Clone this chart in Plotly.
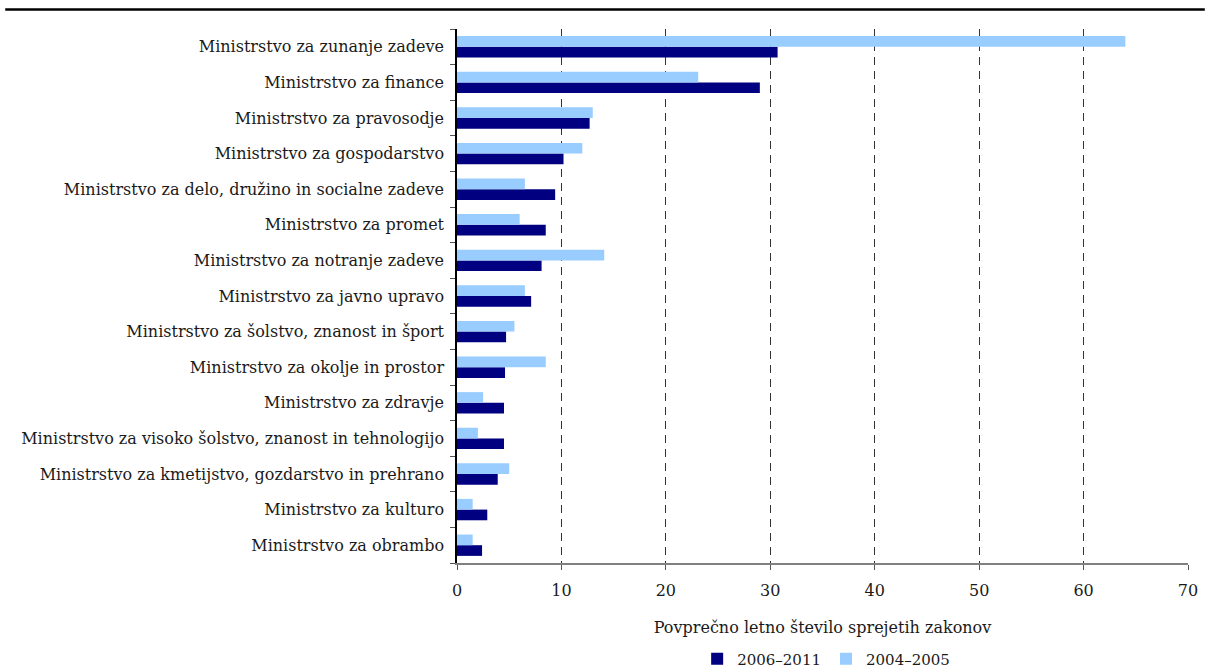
import plotly.graph_objects as go

categories = [
    "Ministrstvo za zunanje zadeve",
    "Ministrstvo za finance",
    "Ministrstvo za pravosodje",
    "Ministrstvo za gospodarstvo",
    "Ministrstvo za delo, družino in socialne zadeve",
    "Ministrstvo za promet",
    "Ministrstvo za notranje zadeve",
    "Ministrstvo za javno upravo",
    "Ministrstvo za šolstvo, znanost in šport",
    "Ministrstvo za okolje in prostor",
    "Ministrstvo za zdravje",
    "Ministrstvo za visoko šolstvo, znanost in tehnologijo",
    "Ministrstvo za kmetijstvo, gozdarstvo in prehrano",
    "Ministrstvo za kulturo",
    "Ministrstvo za obrambo",
]
values_2006_2011 = [30.7, 29.0, 12.7, 10.2, 9.4, 8.5, 8.1, 7.1, 4.7, 4.6, 4.5, 4.5, 3.9, 2.9, 2.4]
values_2004_2005 = [64.0, 23.1, 13.0, 12.0, 6.5, 6.0, 14.1, 6.5, 5.5, 8.5, 2.5, 2.0, 5.0, 1.5, 1.5]
x_ticks = [0, 10, 20, 30, 40, 50, 60, 70]

FONT = "DejaVu Serif"

fig = go.Figure()
fig.add_trace(go.Bar(
    y=categories, x=values_2006_2011, orientation="h", name="2006–2011",
    marker=dict(color="#000080", line=dict(width=0)),
))
fig.add_trace(go.Bar(
    y=categories, x=values_2004_2005, orientation="h", name="2004–2005",
    marker=dict(color="#99CCFF", line=dict(width=0)),
))

fig.update_layout(
    width=1210, height=668,
    margin=dict(l=457, r=22, t=29, b=105, autoexpand=False),
    paper_bgcolor="white", plot_bgcolor="white",
    barmode="group", bargap=0.4, bargroupgap=0,
    font=dict(family=FONT, size=16, color="#1a1a1a"),
    showlegend=True,
    legend=dict(orientation="h", x=0.505, xanchor="center", y=-0.18, yanchor="middle",
                font=dict(family=FONT, size=15), itemwidth=30, tracegroupgap=0),
    xaxis=dict(
        range=[0, 70], tickvals=x_ticks, showgrid=True, gridcolor="#333333", gridwidth=1,
        griddash="8px,6px", zeroline=False, showline=True, linecolor="#808080", linewidth=1.5,
        ticks="outside", ticklen=5, tickcolor="#555555", automargin=False,
        tickfont=dict(family=FONT, size=16), ticklabelstandoff=7,
        title=dict(text="Povprečno letno število sprejetih zakonov",
                   font=dict(family=FONT, size=16), standoff=23),
    ),
    yaxis=dict(
        categoryorder="array", categoryarray=categories[::-1],
        showgrid=False, zeroline=False, showline=True, linecolor="black", linewidth=1.5,
        ticks="outside", ticklen=5, tickcolor="#555555", tickson="boundaries",
        automargin=False,
        tickfont=dict(family=FONT, size=16), ticklabelstandoff=8,
    ),
)

fig.add_shape(type="line", xref="paper", yref="paper",
              x0=-0.618, x1=1.023, y0=1.0365, y1=1.0365,
              line=dict(color="black", width=2.5))

fig.write_html("out.html")
